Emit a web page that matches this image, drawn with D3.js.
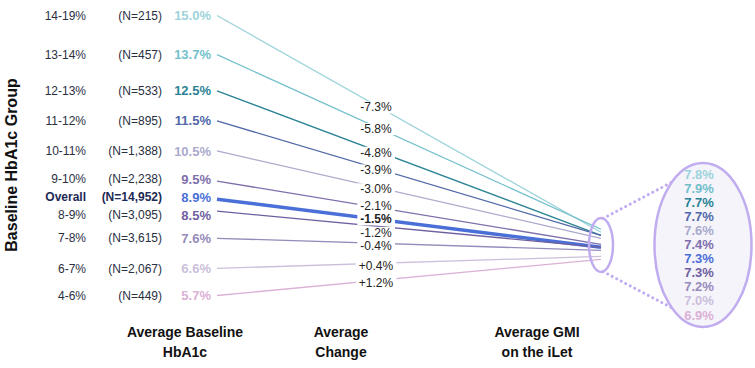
<!DOCTYPE html>
<html><head><meta charset="utf-8">
<script src="https://cdn.jsdelivr.net/npm/d3@7"></script>
<style>
html,body{margin:0;padding:0;background:#fff;}
svg{display:block;font-family:"Liberation Sans",Arial,sans-serif;}
</style></head>
<body><svg id="chart" width="755" height="368"></svg>
<script>
const groups = ["14-19%","13-14%","12-13%","11-12%","10-11%","9-10%","Overall","8-9%","7-8%","6-7%","4-6%"];
const nLabels = ["(N=215)","(N=457)","(N=533)","(N=895)","(N=1,388)","(N=2,238)","(N=14,952)","(N=3,095)","(N=3,615)","(N=2,067)","(N=449)"];
const baseline = [15.0,13.7,12.5,11.5,10.5,9.5,8.9,8.5,7.6,6.6,5.7];
const change = [-7.3,-5.8,-4.8,-3.9,-3.0,-2.1,-1.5,-1.2,-0.4,0.4,1.2];
const gmi = [7.8,7.9,7.7,7.7,7.6,7.4,7.3,7.3,7.2,7.0,6.9];
const colors = ["#9dd3da","#72bfcb","#2b8393","#5068a8","#aaaacd","#7e6eaa","#4a6fd6","#6f5f9f","#968bba","#cbbfdb","#dbb1d6"];
const overallName = "Overall";
const titles = [["Average Baseline","HbA1c"],["Average","Change"],["Average GMI","on the iLet"]];
const yTitle = "Baseline HbA1c Group";

const svg = d3.select("#chart");
const y = d3.scaleLinear().domain([15.0,5.7]).range([15.5,295.5]);
const x = d3.scalePoint().domain(["baseline","gmi"]).range([217,601]);
const x0 = x("baseline"), x1 = x("gmi");
const data = groups.map((g,i)=>({g, n:nLabels[i], b:baseline[i], c:change[i], m:gmi[i], col:colors[i], ov:g===overallName}));

function relax(vals, gap){
  const v = vals.slice();
  for(let it=0; it<300; it++){
    for(let i=1;i<v.length;i++){
      const d = v[i]-v[i-1];
      if(d<gap){ const p=(gap-d)/2; v[i-1]-=p; v[i]+=p; }
    }
  }
  return v;
}
const leftY = relax(data.map(d=>y(d.b)), 18);
const tMid = 0.414;
const xMid = x0 + (x1-x0)*tMid;
const midY = relax(data.map(d=>y(d.b)+(y(d.m)-y(d.b))*tMid+2), 13.5);

// title
svg.append("text").attr("transform","translate(17,165) rotate(-90)")
  .attr("text-anchor","middle").attr("font-size",16).attr("font-weight","bold").attr("fill","#111").text(yTitle);

// lines
svg.append("g").selectAll("line").data(data).join("line")
  .attr("x1",x0).attr("y1",d=>y(d.b)).attr("x2",x1).attr("y2",d=>y(d.m))
  .attr("stroke",d=>d.col).attr("stroke-width",d=>d.ov?3.5:1.3);

// left labels
const L = svg.append("g");
L.selectAll("text.g").data(data).join("text").attr("class","g")
  .attr("x",86).attr("y",(d,i)=>leftY[i]).attr("dy","0.35em").attr("text-anchor","end")
  .attr("font-size",12).attr("font-weight",d=>d.ov?"bold":"normal").attr("fill",d=>d.ov?"#1d2a55":"#2a2f3f").text(d=>d.g);
L.selectAll("text.n").data(data).join("text").attr("class","n")
  .attr("x",162).attr("y",(d,i)=>leftY[i]).attr("dy","0.35em").attr("text-anchor","end")
  .attr("font-size",12).attr("font-weight",d=>d.ov?"bold":"normal").attr("fill",d=>d.ov?"#1d2a55":"#2a2f3f").text(d=>d.n);
L.selectAll("text.b").data(data).join("text").attr("class","b")
  .attr("x",211).attr("y",(d,i)=>leftY[i]).attr("dy","0.35em").attr("text-anchor","end")
  .attr("font-size",13).attr("font-weight","bold").attr("fill",d=>d.col).text(d=>d.b.toFixed(1)+"%");

// change labels
const fmt = v => (v>0?"+":"")+v.toFixed(1)+"%";
const M = svg.append("g");
const mg = M.selectAll("g").data(data).join("g").attr("transform",(d,i)=>`translate(${xMid},${midY[i]})`);
mg.append("text").attr("text-anchor","middle").attr("dy","0.35em").attr("font-size",12)
  .attr("font-weight",d=>d.ov?"bold":"normal").attr("fill","#222").text(d=>fmt(d.c));
mg.each(function(){
  const g=d3.select(this); const bb=g.select("text").node().getBBox();
  g.insert("rect","text").attr("x",bb.x-3).attr("y",bb.y+1).attr("width",bb.width+6).attr("height",bb.height-2).attr("fill","#fff");
});

// ellipses
const purple = "#c1acf0";
const sE = {cx:x1, cy:245, rx:12, ry:27};
const bE = {cx:703, cy:245, rx:48.5, ry:82};
const pt = (e,a)=>[e.cx+e.rx*Math.cos(a*Math.PI/180), e.cy+e.ry*Math.sin(a*Math.PI/180)];
[[pt(sE,-80),pt(bE,-130)],[pt(sE,80),pt(bE,130)]].forEach(([p,q])=>{
  svg.append("line").attr("x1",p[0]).attr("y1",p[1]).attr("x2",q[0]).attr("y2",q[1])
    .attr("stroke",purple).attr("stroke-width",3).attr("stroke-linecap","round").attr("stroke-dasharray","0.1 5");
});
svg.append("ellipse").attr("cx",sE.cx).attr("cy",sE.cy).attr("rx",sE.rx).attr("ry",sE.ry)
  .attr("fill","none").attr("stroke",purple).attr("stroke-width",2.5);
svg.append("ellipse").attr("cx",bE.cx).attr("cy",bE.cy).attr("rx",bE.rx).attr("ry",bE.ry)
  .attr("fill","#f5f4fb").attr("stroke",purple).attr("stroke-width",2.5);

const yr = d3.scalePoint().domain(groups).range([174,315]);
svg.append("g").selectAll("text").data(data).join("text")
  .attr("x",bE.cx-4).attr("y",d=>yr(d.g)).attr("dy","0.35em").attr("text-anchor","middle")
  .attr("font-size",13).attr("font-weight","bold").attr("fill",d=>d.col).text(d=>d.m.toFixed(1)+"%");

// bottom titles
const tx = [185, 341, 537];
titles.forEach((t,i)=>{
  const tt = svg.append("text").attr("text-anchor","middle").attr("font-size",14).attr("font-weight","bold").attr("fill","#111");
  t.forEach((s,j)=>tt.append("tspan").attr("x",tx[i]).attr("y",337+j*20).text(s));
});
</script></body></html>
